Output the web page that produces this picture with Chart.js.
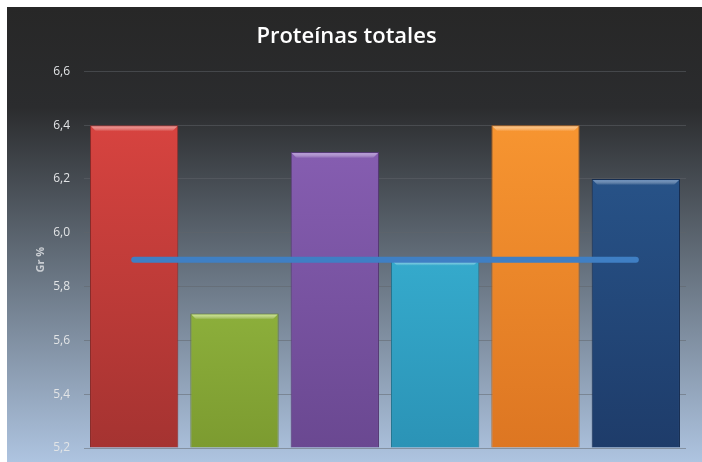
<!DOCTYPE html>
<html>
<head>
<meta charset="utf-8">
<title>Proteínas totales</title>
<script src="https://cdn.jsdelivr.net/npm/chart.js@4.4.1/dist/chart.umd.min.js"></script>
<style>
  html, body { margin: 0; padding: 0; background: #fff; }
  #wrap { width: 702px; height: 462px; }
</style>
</head>
<body>
<div id="wrap"><canvas id="proteinChart" width="702" height="462"></canvas></div>
<script>
// Muestras y valores de proteínas totales (Gr %)
const labels = ['1', '2', '3', '4', '5', '6'];
const proteinValues = [6.4, 5.7, 6.3, 5.9, 6.4, 6.2];
const referenceValues = [5.9, 5.9, 5.9, 5.9, 5.9, 5.9];
const barTopColors = ['#df4642', '#a9d24f', '#8d63b9', '#3fc1e2', '#fb9a33', '#2b5b93'];
const barBottomColors = ['#a53331', '#7c9b30', '#6a4891', '#2b93b6', '#dd7622', '#1e3c6a'];
const barEdgeColors = ['#8a2a28', '#62792a', '#553a74', '#247690', '#b0601c', '#162d50'];
const barShineColors = ['#ec8a86', '#cbe88c', '#b193d6', '#8adcf0', '#fcc07c', '#5d86b8'];

// fondo degradado del gráfico, dejando el borde blanco
const backgroundPlugin = {
  id: 'panelBackground',
  beforeDraw(chart) {
    const { ctx, width, height } = chart;
    const g = ctx.createLinearGradient(0, 7, 0, height);
    g.addColorStop(0, '#272727');
    g.addColorStop(0.22, '#2b2c2e');
    g.addColorStop(0.55, '#626d79');
    g.addColorStop(1, '#aec4e0');
    ctx.save();
    ctx.fillStyle = g;
    ctx.fillRect(7, 7, width - 7, height - 7);
    ctx.restore();
  }
};

// brillo en el borde superior de cada barra
const bevelPlugin = {
  id: 'barBevel',
  afterDatasetDraw(chart, args) {
    if (args.index !== 1) return;
    const { ctx } = chart;
    ctx.save();
    args.meta.data.forEach((bar, i) => {
      const left = bar.x - bar.width / 2;
      const g = ctx.createLinearGradient(0, bar.y, 0, bar.y + 6);
      g.addColorStop(0, barShineColors[i]);
      g.addColorStop(1, 'rgba(255,255,255,0)');
      ctx.fillStyle = g;
      ctx.beginPath();
      ctx.moveTo(left + 1, bar.y + 1);
      ctx.lineTo(left + bar.width - 1, bar.y + 1);
      ctx.lineTo(left + bar.width - 6, bar.y + 6);
      ctx.lineTo(left + 6, bar.y + 6);
      ctx.closePath();
      ctx.fill();
    });
    ctx.restore();
  }
};

function barGradient(context) {
  const chart = context.chart;
  const area = chart.chartArea;
  if (!area) return barTopColors[context.dataIndex];
  const g = chart.ctx.createLinearGradient(0, area.top, 0, area.bottom);
  g.addColorStop(0, barTopColors[context.dataIndex]);
  g.addColorStop(1, barBottomColors[context.dataIndex]);
  return g;
}

new Chart(document.getElementById('proteinChart'), {
  data: {
    labels: labels,
    datasets: [
      {
        type: 'line',
        data: referenceValues,
        borderColor: '#3f7fc4',
        borderWidth: 6,
        borderCapStyle: 'round',
        pointRadius: 0,
        order: 0
      },
      {
        type: 'bar',
        data: proteinValues,
        backgroundColor: barGradient,
        borderColor: barEdgeColors,
        borderWidth: 1,
        barPercentage: 0.88,
        categoryPercentage: 1,
        base: 5.2,
        order: 1
      }
    ]
  },
  options: {
    responsive: false,
    animation: false,
    layout: { padding: { left: 7, right: 16, top: 0, bottom: 14 } },
    plugins: {
      legend: { display: false },
      tooltip: { enabled: false },
      title: {
        display: true,
        text: 'Proteínas totales',
        color: '#ffffff',
        font: { family: 'Open Sans', size: 22, weight: '600' },
        padding: { top: 24, bottom: 21 }
      }
    },
    scales: {
      x: { display: false },
      y: {
        min: 5.2,
        max: 6.6,
        afterFit(scale) {
          scale.width = 77;
          scale.paddingTop = 0;
          scale.paddingBottom = 0;
        },
        ticks: {
          stepSize: 0.2,
          color: '#e2e4e6',
          padding: 14,
          font: { family: 'Open Sans', size: 12 },
          callback: (v) => v.toFixed(1).replace('.', ',')
        },
        grid: { color: 'rgba(95,100,106,0.5)', drawTicks: false },
        border: { display: false },
        title: {
          display: true,
          text: 'Gr %',
          color: '#c9cdd2',
          font: { family: 'Open Sans', size: 11, weight: 'bold' },
          padding: { top: 27, bottom: 0 }
        }
      }
    }
  },
  plugins: [backgroundPlugin, bevelPlugin]
});
</script>
</body>
</html>
